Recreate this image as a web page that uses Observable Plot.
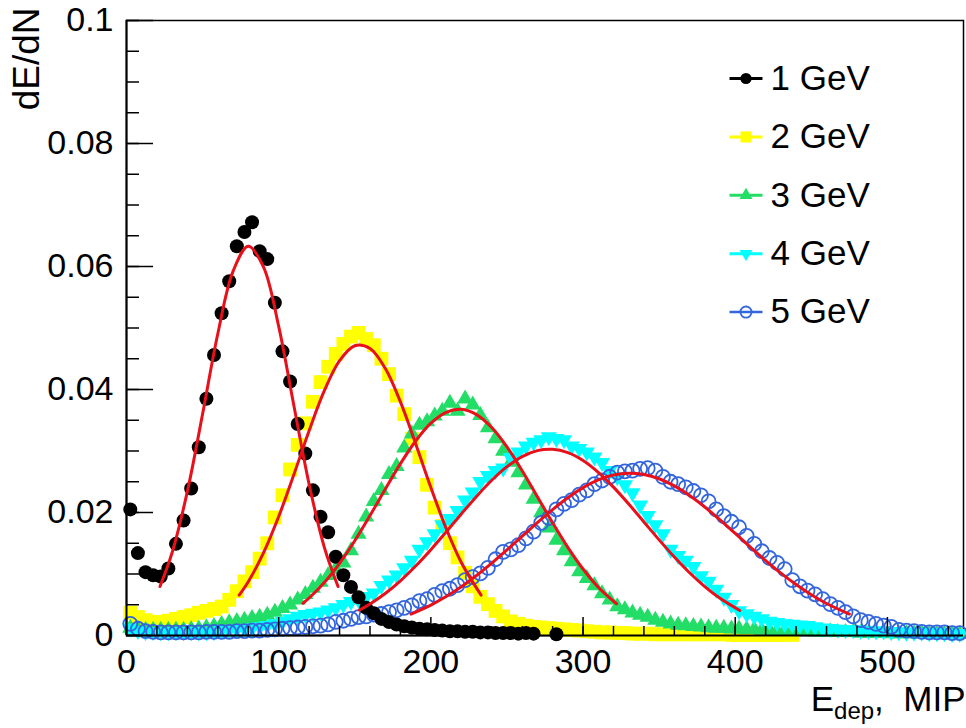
<!DOCTYPE html>
<html><head><meta charset="utf-8">
<script src="https://cdn.jsdelivr.net/npm/d3@7"></script>
<script src="https://cdn.jsdelivr.net/npm/@observablehq/plot@0.6"></script>
<style>html,body{margin:0;padding:0;background:#fff} svg{display:block}</style>
</head><body><div id="chart"></div>
<script>
// ---- data: histogram bin contents, bins 5 MIP wide (first bin centre 2.5) ----
const binWidth = 5;
const e1GeV = [0.0205,0.0134,0.0103,0.0098,0.0096,0.0109,0.0149,0.0187,0.0239,0.0306,
  0.0385,0.0456,0.0524,0.0576,0.0633,0.0656,0.0672,0.0625,0.0612,0.0541,
  0.0462,0.0413,0.0344,0.0296,0.0236,0.0193,0.0168,0.0128,0.0098,0.0079,
  0.0062,0.0045,0.0036,0.0027,0.0022,0.0018,0.0015,0.0013,0.0011,0.0010,
  0.0009,0.0008,0.0007,0.0007,0.0006,0.0006,0.0005,0.0005,0.0004,0.0004,
  0.0004,0.0003,0.0004,0.0003,null,null,0.0002];
const e2GeV = [0.0037,0.0030,0.0025,0.0022,0.0022,0.0024,0.0027,0.0030,0.0033,0.0037,
  0.0040,0.0043,0.0047,0.0058,0.0072,0.0088,0.0103,0.0125,0.0150,0.0192,
  0.0228,0.0270,0.0310,0.0345,0.0380,0.0412,0.0437,0.0458,0.0474,0.0486,
  0.0492,0.0482,0.0472,0.0450,0.0425,0.0390,0.0360,0.0320,0.0290,0.0245,
  0.0208,0.0178,0.0150,0.0127,0.0102,0.0080,0.0063,0.0051,0.0040,0.0031,
  0.0023,0.0019,0.0016,0.0014,0.0013,0.0012,0.0011,0.0010,0.0009,0.0008,
  0.0007,0.0006,0.0005,0.0005,0.0004,0.0004,0.0003,0.0003,0.0003,0.0002,
  0.0002,0.0002,0.0002,0.0002,0.0002,0.0002,0.0002,0.0002,0.0002,0.0001,
  0.0001,0.0001,0.0001,0.0001,0.0001,0.0001,0.0001,0.0001];
const e3GeV = [0.0012,0.0010,0.0009,0.0009,0.0009,0.0009,0.0009,0.0009,0.0010,0.0011,
  0.0013,0.0015,0.0018,0.0021,0.0023,0.0025,0.0028,0.0030,0.0033,0.0038,
  0.0044,0.0050,0.0058,0.0067,0.0077,0.0087,0.0098,0.0108,0.0118,0.0138,
  0.0165,0.0193,0.0218,0.0236,0.0262,0.0275,0.0305,0.0328,0.0342,0.0348,
  0.0357,0.0365,0.0378,0.0365,0.0385,0.0375,0.0358,0.0338,0.0320,0.0300,
  0.0282,0.0265,0.0245,0.0222,0.0200,0.0175,0.0155,0.0138,0.0120,0.0104,
  0.0093,0.0081,0.0068,0.0058,0.0047,0.0042,0.0037,0.0033,0.0030,0.0025,
  0.0022,0.0019,0.0017,0.0016,0.0015,0.0014,0.0013,0.0012,0.0012,0.0011,
  0.0011,0.0010,0.0010,0.0009,0.0009,0.0008,0.0008,0.0008,0.0007,0.0007,
  0.0006,0.0006,0.0006,0.0005,0.0005,0.0005,0.0004,0.0004,0.0004,0.0004,
  0.0003,0.0003,0.0003,0.0003,0.0003,0.0002,0.0002,0.0002,0.0002,0.0002];
const e4GeV = [0.0012,0.0008,0.0006,0.0006,0.0006,0.0006,0.0006,0.0006,0.0006,0.0006,
  0.0006,0.0006,0.0008,0.0009,0.0010,0.0011,0.0012,0.0014,0.0016,0.0019,
  0.0023,0.0027,0.0031,0.0034,0.0036,0.0038,0.0041,0.0045,0.0050,0.0055,
  0.0058,0.0063,0.0069,0.0081,0.0090,0.0098,0.0110,0.0122,0.0140,0.0152,
  0.0165,0.0180,0.0190,0.0203,0.0220,0.0233,0.0250,0.0260,0.0268,0.0272,
  0.0289,0.0298,0.0308,0.0314,0.0318,0.0323,0.0320,0.0318,0.0308,0.0304,
  0.0298,0.0290,0.0281,0.0268,0.0258,0.0245,0.0232,0.0212,0.0195,0.0180,
  0.0165,0.0140,0.0130,0.0122,0.0112,0.0097,0.0088,0.0075,0.0062,0.0050,
  0.0040,0.0035,0.0031,0.0027,0.0023,0.0021,0.0019,0.0018,0.0017,0.0016,
  0.0014,0.0012,0.0011,0.0010,0.0009,0.0009,0.0008,0.0008,0.0007,0.0007,
  0.0006,0.0006,0.0005,0.0005,0.0005,0.0004,0.0004,0.0004,0.0003,0.0003];
const e5GeV = [0.0019,0.0011,0.0007,0.0006,0.0005,0.0005,0.0005,0.0005,0.0005,0.0005,
  0.0006,0.0006,0.0006,0.0006,0.0007,0.0007,0.0008,0.0008,0.0009,0.0010,
  0.0011,0.0012,0.0013,0.0014,0.0015,0.0016,0.0018,0.0022,0.0024,0.0027,
  0.0030,0.0031,0.0034,0.0035,0.0038,0.0041,0.0045,0.0049,0.0056,0.0059,
  0.0066,0.0072,0.0076,0.0082,0.0090,0.0095,0.0101,0.0110,0.0124,0.0136,
  0.0140,0.0147,0.0158,0.0169,0.0183,0.0191,0.0205,0.0214,0.0220,0.0229,
  0.0236,0.0246,0.0252,0.0258,0.0265,0.0267,0.0268,0.0271,0.0272,0.0268,
  0.0258,0.0250,0.0246,0.0241,0.0235,0.0228,0.0218,0.0205,0.0194,0.0185,
  0.0176,0.0162,0.0149,0.0137,0.0126,0.0118,0.0108,0.0090,0.0080,0.0073,
  0.0067,0.0059,0.0051,0.0045,0.0038,0.0031,0.0025,0.0022,0.0019,0.0016,
  0.0014,0.0009,0.0008,0.0007,0.0006,0.0005,0.0005,0.0005,0.0004,0.0004];

// ---- fitted curves as [E, dE/dN] ----
const fit1 = [[22,0.00796],[30,0.01349],[40,0.02343],[50,0.03602],[60,0.04907],[70,0.05921],[80,0.0633],[90,0.05993],[100,0.05027],[110,0.03735],[120,0.02459],[130,0.01434],[139,0.00796]];
const fit2 = [[74,0.00656],[80,0.00875],[90,0.01342],[100,0.01934],[110,0.02618],[120,0.03331],[130,0.0398],[140,0.04468],[150,0.04712],[160,0.04668],[170,0.04344],[180,0.03798],[190,0.03119],[200,0.02407],[210,0.01744],[220,0.01188],[233,0.00656]];
const fit3 = [[116,0.00525],[120,0.0061],[130,0.00862],[140,0.01174],[150,0.01541],[160,0.0195],[170,0.02378],[180,0.02794],[190,0.03163],[200,0.03452],[210,0.0363],[220,0.03679],[230,0.03592],[240,0.03381],[250,0.03067],[260,0.0268],[270,0.02258],[280,0.01833],[290,0.01434],[300,0.01081],[310,0.00785],[322,0.00516]];
const fit4 = [[153,0.00413],[160,0.00513],[170,0.00684],[180,0.0089],[190,0.0113],[200,0.01396],[210,0.01682],[220,0.01976],[230,0.02262],[240,0.02524],[250,0.02745],[260,0.02909],[270,0.03006],[280,0.03028],[290,0.02973],[300,0.02845],[310,0.02653],[320,0.02412],[330,0.02138],[340,0.01847],[350,0.01555],[360,0.01276],[370,0.01021],[380,0.00796],[390,0.00605],[403,0.00407]];
const fit5 = [[187,0.00349],[200,0.00495],[210,0.00633],[220,0.00794],[230,0.00976],[240,0.01177],[250,0.01392],[260,0.01615],[270,0.01837],[280,0.02048],[290,0.02241],[300,0.02404],[310,0.02529],[320,0.02609],[330,0.0264],[340,0.02619],[350,0.02549],[360,0.02432],[370,0.02276],[380,0.02089],[390,0.0188],[400,0.01659],[410,0.01436],[420,0.01219],[430,0.01015],[440,0.00829],[450,0.00663],[460,0.00521],[475,0.00349]];

const seriesLabels = ["1 GeV","2 GeV","3 GeV","4 GeV","5 GeV"];
const xTicks = [0,100,200,300,400,500];
const xTickLabels = ["0","100","200","300","400","500"];
const yTicks = [0,0.02,0.04,0.06,0.08,0.1];
const yTickLabels = ["0","0.02","0.04","0.06","0.08","0.1"];
const yLabel = "dE/dN";
const xTitleMain = "E", xTitleSub = "dep", xTitleUnit = ",\u00a0\u00a0MIP";

// ---- styling ----
const triangleDown = {draw(context, size) {
  const s3 = Math.sqrt(3), y = -Math.sqrt(size / (s3 * 3));
  context.moveTo(0, -2 * y); context.lineTo(-s3 * y, y); context.lineTo(s3 * y, y); context.closePath();
}};
const hline = {draw(context) { context.moveTo(-16.5, 0); context.lineTo(16.5, 0); }};
const styles = [
  {symbol: "circle", r: 7, fill: "#000000", stroke: "none", line: "#000000", lw: 3},
  {symbol: "square", r: 7.8, fill: "#ffff00", stroke: "none", line: "#ffff00", lw: 3},
  {symbol: "triangle", r: 6, fill: "#22dd66", stroke: "none", line: "#22dd66", lw: 3},
  {symbol: triangleDown, r: 6, fill: "#00ffff", stroke: "none", line: "#00ffff", lw: 3},
  {symbol: "circle", r: 7, fill: "none", stroke: "#3366dd", strokeWidth: 1.8, line: "#3366dd", lw: 2.5}
];
const allSeries = [e1GeV, e2GeV, e3GeV, e4GeV, e5GeV];
const fits = [fit1, fit2, fit3, fit4, fit5];
const toPoints = vals => vals.map((v, i) => ({x: binWidth / 2 + binWidth * i, y: v})).filter(d => d.y != null);

const drawOrder = [1, 2, 3, 4, 0];
const dataMarks = drawOrder.map(k => Plot.dot(toPoints(allSeries[k]), {
  x: "x", y: "y", symbol: styles[k].symbol, r: styles[k].r,
  fill: styles[k].fill, stroke: styles[k].stroke, strokeWidth: styles[k].strokeWidth || 1
}));
const fitMarks = fits.map(f => Plot.line(f, {x: d => d[0], y: d => d[1], stroke: "#e8101a", strokeWidth: 3, curve: "catmull-rom"}));

const legendMarks = seriesLabels.flatMap((lab, i) => {
  const dy = 58 + i * 58.4, s = styles[i];
  return [
    Plot.dot([lab], {frameAnchor: "top-left", dx: 619.5, dy, symbol: hline, fill: "none", stroke: s.line, strokeWidth: s.lw}),
    Plot.dot([lab], {frameAnchor: "top-left", dx: 619.5, dy, symbol: s.symbol, r: s.r * 0.8, fill: s.fill, stroke: s.stroke, strokeWidth: s.strokeWidth || 1}),
    Plot.text([lab], {frameAnchor: "top-left", dx: 644, dy, text: d => d, textAnchor: "start", lineAnchor: "middle", fontSize: 35, fill: "#000"})
  ];
});

const chart = Plot.plot({
  width: 966, height: 728,
  marginLeft: 126, marginRight: 3, marginTop: 20, marginBottom: 93,
  x: {domain: [0, 550]},
  y: {domain: [0, 0.1]},
  style: {fontFamily: "'Liberation Sans', Arial, sans-serif", fontSize: "33px", color: "#000", background: "#fff"},
  marks: [
    Plot.frame({stroke: "#000", strokeWidth: 1.5}),
    ...dataMarks,
    ...fitMarks,
    Plot.ruleX([0], {stroke: "#000", strokeWidth: 2}),
    Plot.ruleY([0], {stroke: "#000", strokeWidth: 2}),
    Plot.ruleY(d3.range(0, 21).map(i => i * 0.005), {y: d => d, x1: 0, x2: 0, insetRight: -13, stroke: "#000", strokeWidth: 1.5}),
    Plot.ruleY(yTicks, {y: d => d, x1: 0, x2: 0, insetRight: -27, stroke: "#000", strokeWidth: 1.5}),
    Plot.ruleX(d3.range(0, 551, 20), {x: d => d, y1: 0, y2: 0, insetTop: -9, stroke: "#000", strokeWidth: 1.5}),
    Plot.ruleX(xTicks, {x: d => d, y1: 0, y2: 0, insetTop: -18, stroke: "#000", strokeWidth: 1.5}),
    Plot.axisY(yTicks, {tickSize: 0, tickPadding: 13, tickFormat: d => yTickLabels[yTicks.indexOf(d)], fontSize: 34, label: null}),
    Plot.axisX(xTicks, {tickSize: 0, tickPadding: 13, tickFormat: d => xTickLabels[xTicks.indexOf(d)], fontSize: 34, label: null}),
    Plot.text([yLabel], {frameAnchor: "top-left", dx: -99.5, dy: -13, rotate: -90, text: d => d, textAnchor: "end", lineAnchor: "middle", fontSize: 37, fill: "#000"}),
    Plot.text([xTitleMain], {frameAnchor: "bottom-right", dx: 2, dy: 64.5, text: d => d, textAnchor: "end", lineAnchor: "middle", fontSize: 35, fill: "#000"}),
    ...legendMarks
  ]
});
document.getElementById("chart").appendChild(chart);

// subscript in the x-axis title
d3.select(chart).selectAll("text").filter(function() { return this.textContent === xTitleMain; }).each(function() {
  const t = d3.select(this);
  t.text(null);
  t.append("tspan").text(xTitleMain);
  t.append("tspan").attr("font-size", 24).attr("dy", 8).text(xTitleSub);
  t.append("tspan").attr("dy", -8).text(xTitleUnit);
});
</script>
</body></html>
